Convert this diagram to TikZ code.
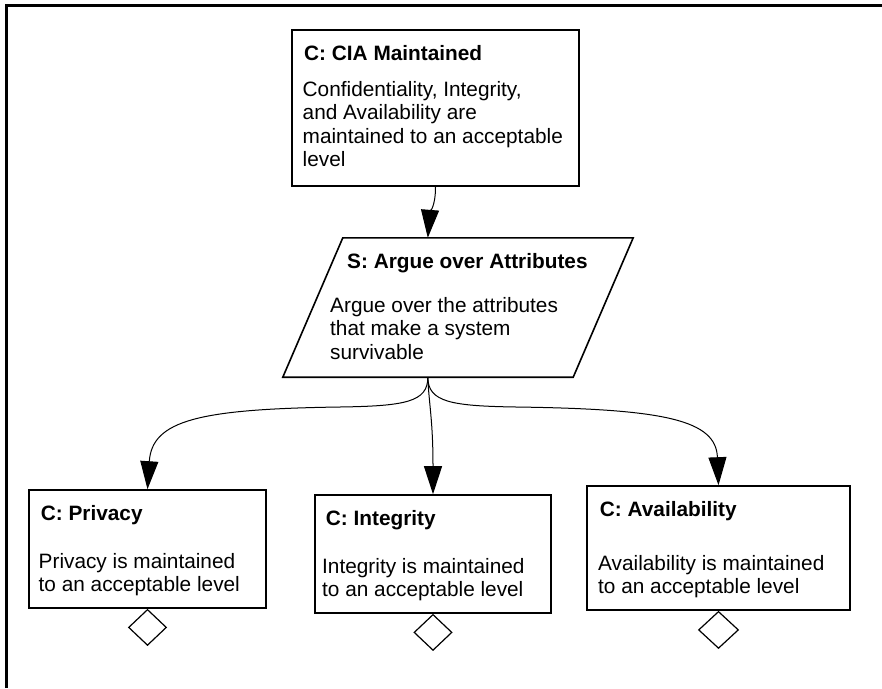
\documentclass[tikz,border=0pt]{standalone}
\usepackage{fontspec}
\setmainfont{Liberation Sans}
\usetikzlibrary{arrows.meta,shapes.geometric,calc}
\begin{document}
\begin{tikzpicture}[x=1pt,y=1pt,
  goalbox/.style={draw, line width=1.6pt, rectangle, inner sep=0pt},
  stratline/.style={draw, line width=1.6pt, line join=miter},
  undev/.style={draw, line width=1.2pt, diamond, inner sep=0pt, minimum width=38pt, minimum height=36pt, anchor=north},
  ttl/.style={anchor=base west, inner sep=0pt, font=\fontsize{20.8}{23.5}\selectfont\bfseries},
  bdy/.style={anchor=base west, inner sep=0pt, align=left, font=\fontsize{20.8}{23.5}\selectfont},
  arr/.style={line width=1pt, -{Triangle[length=28pt,width=18pt]}},
]
\useasboundingbox (0,0) rectangle (882,-688);
\draw[line width=3pt] (6,-688) -- (6,-5) -- (882,-5);

% goal boxes
\node[goalbox, minimum width=287pt, minimum height=156pt] (cia) at (435.5,-108) {};
\node[rectangle, inner sep=0pt, minimum width=350pt, minimum height=139pt] (arg) at (458,-307.5) {};
\draw[stratline] (arg.south west) -- ($(arg.north west)+(60,0)$) -- (arg.north east) -- ($(arg.south east)+(-60,0)$) -- cycle;
\coordinate (argbot) at ($(arg.south west)+(145,0)$);
\coordinate (argtop) at (argbot |- arg.north);
\node[goalbox, minimum width=237pt, minimum height=118pt] (priv) at (147.5,-549) {};
\node[goalbox, minimum width=236pt, minimum height=118pt] (integ) at (433,-554) {};
\node[goalbox, minimum width=263pt, minimum height=124pt] (avail) at (718.5,-548) {};

% texts (body nodes anchored at the baseline of their last line)
\node[ttl] (ciaT) at (304,-60) {C: CIA Maintained};
\node[bdy] (ciaB) at (302.5,-166.5) {Confidentiality, Integrity,\\and Availability are\\maintained to an acceptable\\level};
\node[ttl] (argT) at (347,-268) {S: Argue over Attributes};
\node[bdy] (argB) at (330,-359) {Argue over the attributes\\that make a system\\survivable};
\node[ttl] (privT) at (40.7,-520) {C: Privacy};
\node[bdy] (privB) at (38.5,-591.5) {Privacy is maintained\\to an acceptable level};
\node[ttl] (integT) at (325.7,-525.7) {C: Integrity};
\node[bdy] (integB) at (322,-596.5) {Integrity is maintained\\to an acceptable level};
\node[ttl] (availT) at (599.7,-516.7) {C: Availability};
\node[bdy] (availB) at (598,-593.5) {Availability is maintained\\to an acceptable level};

% undeveloped diamonds
\node[undev] (d1) at (priv.south) {};
\node[undev] (d2) at (integ.south) {};
\node[undev, minimum width=40pt, minimum height=37pt] (d3) at (avail.south) {};

% connectors
\draw[arr] (cia.south) .. controls +(0,-20) and +(2,25) .. (argtop);
\draw[arr] (argbot) .. controls (428,-402) and (405,-406) .. (340,-407)
                    .. controls (200,-409) and (152,-420) .. (priv.north);
\draw[arr] (argbot) .. controls (429,-405) and (433,-420) .. (integ.north);
\draw[arr] (argbot) .. controls (428,-402) and (451,-406) .. (516,-407)
                    .. controls (665,-409) and (716,-420) .. (avail.north);
\end{tikzpicture}
\end{document}
